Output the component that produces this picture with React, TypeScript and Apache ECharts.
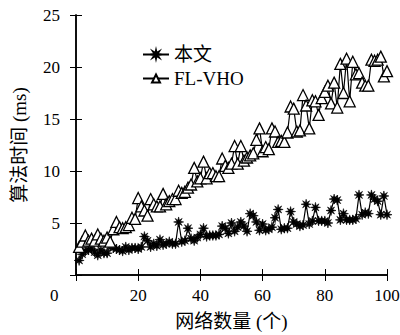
import React, { useEffect, useRef } from "react";
import * as echarts from "echarts";

const xValues: number[] = Array.from({ length: 100 }, (_, i) => i + 1);

const oursValues: number[] = [
  1.4, 2.0, 2.3, 2.4, 2.5, 2.2, 1.9, 2.4, 2.1, 2.1,
  2.8, 2.6, 2.5, 2.4, 2.3, 2.7, 2.4, 2.6, 2.6, 2.5,
  2.7, 3.7, 3.3, 2.7, 3.0, 2.8, 3.4, 2.9, 3.0, 3.2,
  3.0, 3.0, 5.1, 3.2, 3.3, 4.5, 3.5, 3.3, 3.6, 3.9,
  4.5, 3.7, 3.8, 3.8, 3.8, 3.9, 4.7, 4.5, 4.0, 5.0,
  4.2, 4.6, 5.1, 4.7, 4.2, 5.9, 5.7, 5.1, 4.3, 4.9,
  4.3, 4.4, 4.6, 5.5, 6.3, 4.4, 4.5, 4.5, 6.1, 5.1,
  4.9, 4.7, 4.8, 6.8, 4.9, 5.2, 6.5, 5.2, 5.2, 5.2,
  5.0, 6.2, 7.3, 7.2, 5.3, 5.9, 5.3, 5.3, 5.3, 5.4,
  7.7, 5.8, 6.0, 5.9, 7.7, 7.3, 7.1, 5.8, 7.6, 5.8,
];

const flvhoValues: number[] = [
  2.7, 3.2, 3.8, 3.3, 3.5, 3.3, 3.9, 3.5, 3.3, 3.6,
  3.2, 4.4, 5.1, 4.6, 4.5, 4.6, 4.8, 5.5, 5.4, 7.4,
  6.6, 6.2, 5.7, 7.3, 6.8, 6.6, 6.6, 7.8, 6.8, 7.1,
  7.3, 7.3, 8.1, 7.9, 8.0, 8.4, 8.7, 10.3, 9.0, 9.3,
  10.9, 9.3, 9.8, 9.8, 9.5, 9.5, 11.2, 10.5, 10.3, 10.7,
  12.4, 10.7, 12.4, 11.0, 11.3, 11.5, 11.7, 13.0, 14.1, 11.9,
  12.3, 12.1, 14.1, 13.8, 12.8, 12.9, 12.8, 13.7, 16.2, 16.0,
  13.8, 13.9, 17.3, 16.3, 14.1, 16.8, 16.7, 15.4, 17.0, 17.6,
  18.2, 16.5, 18.5, 16.1, 20.3, 17.5, 20.8, 16.7, 20.5, 19.3,
  19.4, 18.5, 18.2, 18.2, 20.7, 20.6, 20.7, 21.0, 19.1, 19.6,
];

const seriesNames: string[] = ["本文", "FL-VHO"];
const xAxisTitle = "网络数量 (个)";
const yAxisTitle = "算法时间 (ms)";

function starPath(): string {
  const pts: string[] = [];
  const n = 16;
  for (let k = 0; k < n; k++) {
    const a = (k * Math.PI) / 8 - Math.PI / 2;
    const r = k % 2 === 0 ? 10 : 3.8;
    const px = (r * Math.cos(a)).toFixed(2);
    const py = (r * Math.sin(a)).toFixed(2);
    pts.push((k === 0 ? "M" : "L") + px + " " + py);
  }
  return "path://" + pts.join(" ") + " Z";
}

const FONT = "'Liberation Serif', 'Noto Sans CJK SC', serif";

export default function App() {
  const ref = useRef<HTMLDivElement>(null);
  useEffect(() => {
    if (!ref.current) return;
    const chart = echarts.init(ref.current, undefined, { renderer: "svg" });
    const star = starPath();
    const axisCommon = {
      type: "value" as const,
      axisLine: { show: true, lineStyle: { color: "#000", width: 1.5 } },
      splitLine: { show: false },
    };
    const tick = { show: true, inside: true, length: 6, lineStyle: { color: "#000", width: 1 } };
    chart.setOption({
      animation: false,
      backgroundColor: "#fff",
      grid: { left: 76, right: 13, top: 15, bottom: 60, containLabel: false, outerBoundsMode: "none" },
      legend: {
        left: 137,
        top: 40,
        orient: "vertical",
        itemWidth: 26,
        itemHeight: 10,
        itemGap: 5,
        textStyle: { fontFamily: FONT, fontSize: 19, color: "#000" },
        data: seriesNames,
      },
      xAxis: [
        {
          ...axisCommon,
          min: 0,
          max: 100,
          interval: 20,
          position: "bottom",
          axisTick: tick,
          axisLabel: {
            color: "#000",
            fontFamily: FONT,
            fontSize: 17,
            margin: 12,
            formatter: (v: number) => (v === 0 ? "" : String(v)),
          },
          name: xAxisTitle,
          nameLocation: "middle",
          nameGap: 37,
          nameTextStyle: { color: "#000", fontFamily: FONT, fontSize: 19 },
        },
        {
          ...axisCommon,
          min: 0,
          max: 100,
          interval: 20,
          position: "top",
          axisTick: tick,
          axisLabel: { show: false },
        },
      ],
      yAxis: [
        {
          ...axisCommon,
          min: 0,
          max: 25,
          interval: 5,
          position: "left",
          axisTick: tick,
          axisLabel: {
            color: "#000",
            fontFamily: FONT,
            fontSize: 17,
            margin: 16,
            formatter: (v: number) => (v === 0 ? "" : String(v)),
          },
          name: yAxisTitle,
          nameLocation: "middle",
          nameGap: 47,
          nameTextStyle: { color: "#000", fontFamily: FONT, fontSize: 19 },
        },
        {
          ...axisCommon,
          min: 0,
          max: 25,
          interval: 5,
          position: "right",
          axisTick: tick,
          axisLabel: { show: false },
        },
      ],
      graphic: [
        {
          type: "text",
          left: 50,
          top: 287,
          style: { text: "0", fontFamily: FONT, fontSize: 17, fill: "#000" },
        },
      ],
      series: [
        {
          name: seriesNames[0],
          type: "line",
          data: xValues.map((x, i) => [x, oursValues[i]]),
          symbol: star,
          symbolSize: 10,
          showAllSymbol: true,
          lineStyle: { color: "#000", width: 1.2 },
          itemStyle: { color: "#000", borderColor: "#000", borderWidth: 0.6 },
        },
        {
          name: seriesNames[1],
          type: "line",
          data: xValues.map((x, i) => [x, flvhoValues[i]]),
          symbol: "triangle",
          symbolSize: 11,
          showAllSymbol: true,
          lineStyle: { color: "#000", width: 1.2 },
          itemStyle: { color: "#fff", borderColor: "#000", borderWidth: 1.3 },
        },
      ],
    });
    return () => chart.dispose();
  }, []);
  return <div ref={ref} style={{ width: 400, height: 335, position: "absolute", left: 0, top: 0 }} />;
}
